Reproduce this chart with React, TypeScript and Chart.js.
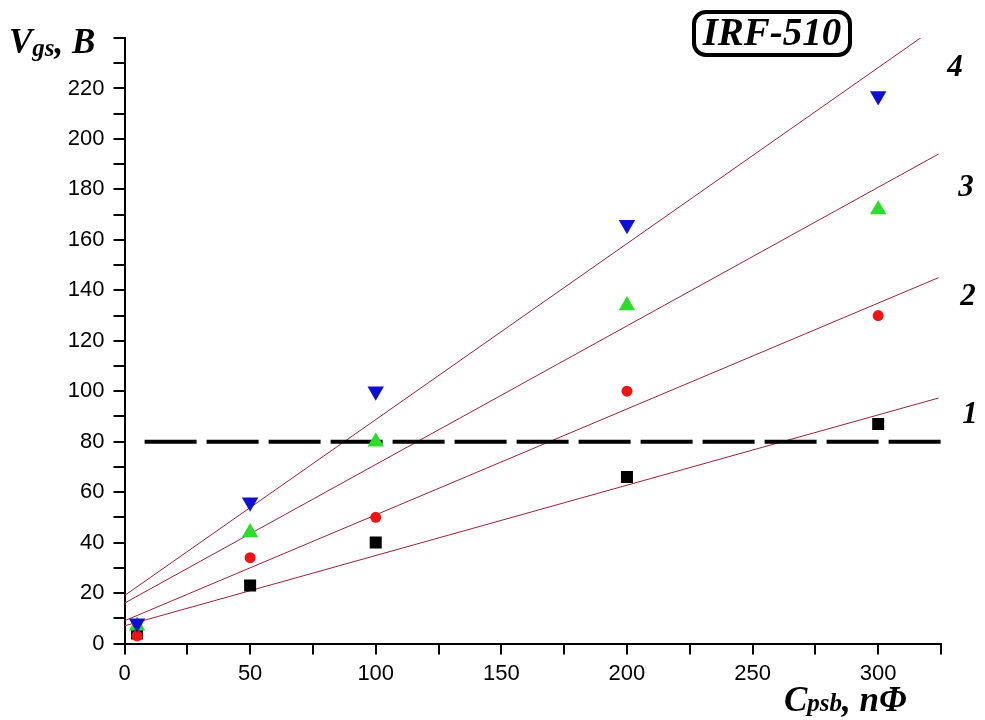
import React, { useEffect, useRef } from "react";
import { Chart, registerables } from "chart.js";

Chart.register(...registerables);

// Capacitance values, nF
const capacitance = [5, 50, 100, 200, 300];

// Measured gate-source voltage, V, for curves 1..4
const vgs1 = [4, 23, 40, 66, 87];
const vgs2 = [3, 34, 50, 100, 130];
const vgs3 = [7, 44, 80, 134, 172];
const vgs4 = [8, 56, 100, 166, 217];

// Linear fits: value at C = 0 and at C = fitEndX
const fitEndX = 324;
const fitStart = [7, 9, 16, 19];
const fitEnd = [97.3, 145, 194, 245];

// Threshold level, V
const thresholdLevel = 80;
const thresholdRange = [8, 325];

const curveNames = ["1", "2", "3", "4"];

const toPoints = (ys: number[]) => capacitance.map((x, i) => ({ x, y: ys[i] }));

const serif = "'Liberation Serif', 'Times New Roman', serif";
const sans = "'Liberation Sans', Arial, sans-serif";

const annotations = {
  id: "annotations",
  afterDraw(chart: any) {
    const ctx = chart.ctx as CanvasRenderingContext2D;
    ctx.save();
    ctx.fillStyle = "#000";
    ctx.textBaseline = "alphabetic";

    // y-axis title: V_gs, B
    ctx.textAlign = "left";
    ctx.font = `italic bold 35px ${serif}`;
    ctx.fillText("V", 9, 53);
    let x = 9 + ctx.measureText("V").width;
    ctx.font = `italic bold 25px ${serif}`;
    ctx.fillText("gs", x, 56);
    x += ctx.measureText("gs").width;
    ctx.font = `italic bold 35px ${serif}`;
    ctx.fillText(", B", x, 53);

    // x-axis title: C_psb, nΦ
    ctx.font = `italic bold 35px ${serif}`;
    ctx.fillText("C", 784, 711);
    x = 784 + ctx.measureText("C").width;
    ctx.font = `italic bold 25px ${serif}`;
    ctx.fillText("psb", x, 711);
    x += ctx.measureText("psb").width;
    ctx.font = `italic bold 35px ${serif}`;
    ctx.fillText(", nΦ", x, 711);

    // Device name box
    ctx.lineWidth = 4;
    ctx.strokeStyle = "#000";
    ctx.beginPath();
    (ctx as any).roundRect(694, 12, 156, 43, 12);
    ctx.stroke();
    ctx.font = `italic bold 39px ${serif}`;
    ctx.textAlign = "center";
    ctx.textBaseline = "middle";
    ctx.fillText("IRF-510", 772, 35);

    // Curve numbers
    ctx.font = `italic bold 31px ${serif}`;
    const spots = [
      [970, 415],
      [968, 297],
      [966, 188],
      [955, 68],
    ];
    curveNames.forEach((name, i) => ctx.fillText(name, spots[i][0], spots[i][1]));
    ctx.restore();
  },
};

export default function App() {
  const canvasRef = useRef<HTMLCanvasElement | null>(null);

  useEffect(() => {
    document.body.style.margin = "0";
    const canvas = canvasRef.current;
    if (!canvas) return;

    const fitColor = "#9b2230";
    const fits = fitStart.map((y0, i) => ({
      type: "line" as const,
      data: [
        { x: 0, y: y0 },
        { x: fitEndX, y: fitEnd[i] },
      ],
      borderColor: fitColor,
      borderWidth: 1,
      pointRadius: 0,
      showLine: true,
      order: 10,
    }));

    const chart = new Chart(canvas, {
      type: "scatter",
      data: {
        datasets: [
          ...fits,
          {
            type: "line",
            data: thresholdRange.map((x) => ({ x, y: thresholdLevel })),
            borderColor: "#000",
            borderWidth: 4,
            borderDash: [52, 10],
            pointRadius: 0,
            showLine: true,
            order: 9,
          },
          {
            data: toPoints(vgs1),
            pointStyle: "rect",
            pointRadius: 8.5,
            backgroundColor: "#000",
            borderColor: "#000",
            borderWidth: 0,
            order: 4,
          },
          {
            data: toPoints(vgs2),
            pointStyle: "circle",
            pointRadius: 5.5,
            backgroundColor: "#f01414",
            borderColor: "#f01414",
            borderWidth: 0,
            order: 3,
          },
          {
            data: toPoints(vgs3),
            pointStyle: "triangle",
            pointRadius: 9.5,
            backgroundColor: "#2edc2e",
            borderColor: "#2edc2e",
            borderWidth: 0,
            order: 2,
          },
          {
            data: toPoints(vgs4),
            pointStyle: "triangle",
            rotation: 180,
            pointRadius: 9.5,
            backgroundColor: "#1010d0",
            borderColor: "#1010d0",
            borderWidth: 0,
            order: 1,
          },
        ] as any,
      },
      options: {
        animation: false,
        responsive: false,
        layout: { padding: { left: 0, right: 44, top: 38, bottom: 0 } },
        plugins: {
          legend: { display: false },
          tooltip: { enabled: false },
        },
        scales: {
          x: {
            type: "linear",
            min: 0,
            max: 325,
            afterFit: (s: any) => {
              s.height = 76.5;
            },
            border: { display: true, color: "#000", width: 2 },
            grid: {
              drawOnChartArea: false,
              drawTicks: true,
              tickLength: 11,
              color: "#000",
              lineWidth: 2,
            },
            ticks: {
              stepSize: 25,
              autoSkip: false,
              maxRotation: 0,
              padding: 6,
              color: "#000",
              font: { family: sans, size: 22 },
              callback: (v: any) => (Number(v) % 50 === 0 ? String(v) : ""),
            },
          },
          y: {
            type: "linear",
            min: 0,
            max: 240,
            afterFit: (s: any) => {
              s.width = 124.5;
            },
            border: { display: true, color: "#000", width: 2 },
            grid: {
              drawOnChartArea: false,
              drawTicks: true,
              tickLength: 11,
              color: "#000",
              lineWidth: 2,
            },
            ticks: {
              stepSize: 10,
              autoSkip: false,
              padding: 9,
              color: "#000",
              font: { family: sans, size: 22 },
              callback: (v: any) =>
                Number(v) % 20 === 0 && Number(v) < 240 ? String(v) : "",
            },
          },
        },
      },
      plugins: [annotations],
    });

    return () => chart.destroy();
  }, []);

  return (
    <div style={{ width: 985, height: 720, background: "#fff" }}>
      <canvas ref={canvasRef} width={985} height={720} />
    </div>
  );
}
